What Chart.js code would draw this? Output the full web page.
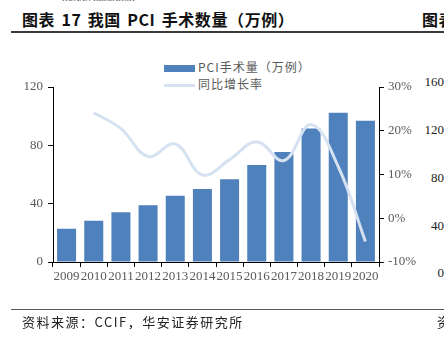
<!DOCTYPE html>
<html>
<head>
<meta charset="utf-8">
<script src="https://cdn.jsdelivr.net/npm/chart.js@4/dist/chart.umd.min.js"></script>
<style>
  body { margin:0; width:444px; height:338px; overflow:hidden; background:#fff; position:relative; font-family:"Noto Sans CJK SC", sans-serif; }
  #c { position:absolute; left:0; top:0; }
  .abs { position:absolute; white-space:nowrap; }
  .title { font-weight:bold; font-size:16px; letter-spacing:0.6px; word-spacing:2px; color:#111; top:7px; }
  .rule { position:absolute; left:11px; right:0; }
  .legend { position:absolute; left:164px; top:58px; font-size:12px; color:#595959; letter-spacing:1px; }
  .legend div { height:17px; line-height:17px; }
  .sw { display:inline-block; width:31px; vertical-align:middle; margin-right:3px; }
  .next { font-family:"Liberation Serif", serif; font-size:13px; color:#222; text-align:right; width:40px; left:404px; }
  .src { font-size:13px; color:#222; letter-spacing:1.5px; top:312px; }
</style>
</head>
<body>
<div class="abs" style="left:62px;top:-6px;font-family:'Liberation Serif';font-size:8px;color:#555;">HUAAN RESEARCH</div>
<div class="abs title" style="left:22px;">图表 17 我国 PCI 手术数量（万例）</div>
<div class="abs title" style="left:422px;">图表</div>
<div class="rule" style="top:31px;height:2px;background:#3a3a3a;"></div>

<div class="legend">
  <div><span class="sw" style="height:7px;background:#4f81bd;"></span>PCI手术量（万例）</div>
  <div><span class="sw" style="height:3px;background:#d6e2f1;"></span>同比增长率</div>
</div>

<div class="abs next" style="top:74px;">160</div>
<div class="abs next" style="top:122px;">120</div>
<div class="abs next" style="top:170px;">80</div>
<div class="abs next" style="top:218px;">40</div>
<div class="abs next" style="top:265px;">0</div>

<canvas id="c" width="444" height="338"></canvas>

<div class="rule" style="top:309px;height:1px;background:#555;"></div>
<div class="abs src" style="left:22px;">资料来源：CCIF，华安证券研究所</div>
<div class="abs src" style="left:437px;">资</div>

<script>
const years = ["2009","2010","2011","2012","2013","2014","2015","2016","2017","2018","2019","2020"];
const pciCount = [22.8, 28.3, 34.1, 38.9, 45.5, 50.0, 56.7, 66.6, 75.4, 91.5, 102.3, 96.9];
const growth = [null, 24.1, 20.5, 14.1, 17.0, 9.9, 13.4, 17.5, 13.2, 21.4, 11.8, -5.3];
const leftTicks = [0, 40, 80, 120];
const rightTicks = [-10, 0, 10, 20, 30];

const tickFont = { family: "Liberation Serif", size: 13 };
const tickColor = "#595959";

new Chart(document.getElementById("c"), {
  type: "bar",
  data: {
    labels: years,
    datasets: [
      {
        type: "line",
        label: "同比增长率",
        data: growth,
        yAxisID: "y1",
        borderColor: "#d6e2f1",
        borderWidth: 3,
        pointRadius: 0,
        tension: 0.4,
        fill: false,
        order: 0
      },
      {
        label: "PCI手术量（万例）",
        data: pciCount,
        yAxisID: "y",
        backgroundColor: "#4f81bd",
        barPercentage: 0.7,
        categoryPercentage: 1.0,
        order: 1
      }
    ]
  },
  options: {
    responsive: false,
    animation: false,
    layout: { padding: { top: 87, left: 0, right: 0, bottom: 0 } },
    plugins: { legend: { display: false }, tooltip: { enabled: false } },
    scales: {
      x: {
        grid: { drawOnChartArea: false, color: "#000", tickLength: 5, offset: true },
        border: { color: "#000", width: 1 },
        ticks: { font: tickFont, color: tickColor, padding: 2, maxRotation: 0, autoSkip: false },
        afterFit: s => { s.height = 76; }
      },
      y: {
        position: "left",
        min: leftTicks[0],
        max: leftTicks[leftTicks.length - 1],
        afterBuildTicks: s => { s.ticks = leftTicks.map(v => ({ value: v })); },
        grid: { drawOnChartArea: false, color: "#000", tickLength: 5 },
        border: { color: "#000", width: 1 },
        ticks: { font: tickFont, color: tickColor, padding: 5 },
        afterFit: s => { s.width = 53; }
      },
      y1: {
        position: "right",
        min: rightTicks[0],
        max: rightTicks[rightTicks.length - 1],
        afterBuildTicks: s => { s.ticks = rightTicks.map(v => ({ value: v })); },
        grid: { drawOnChartArea: false, color: "#000", tickLength: 5 },
        border: { color: "#000", width: 1 },
        ticks: { font: tickFont, color: tickColor, padding: 4, callback: v => v + "%" },
        afterFit: s => { s.width = 65; }
      }
    }
  }
});
</script>
</body>
</html>
